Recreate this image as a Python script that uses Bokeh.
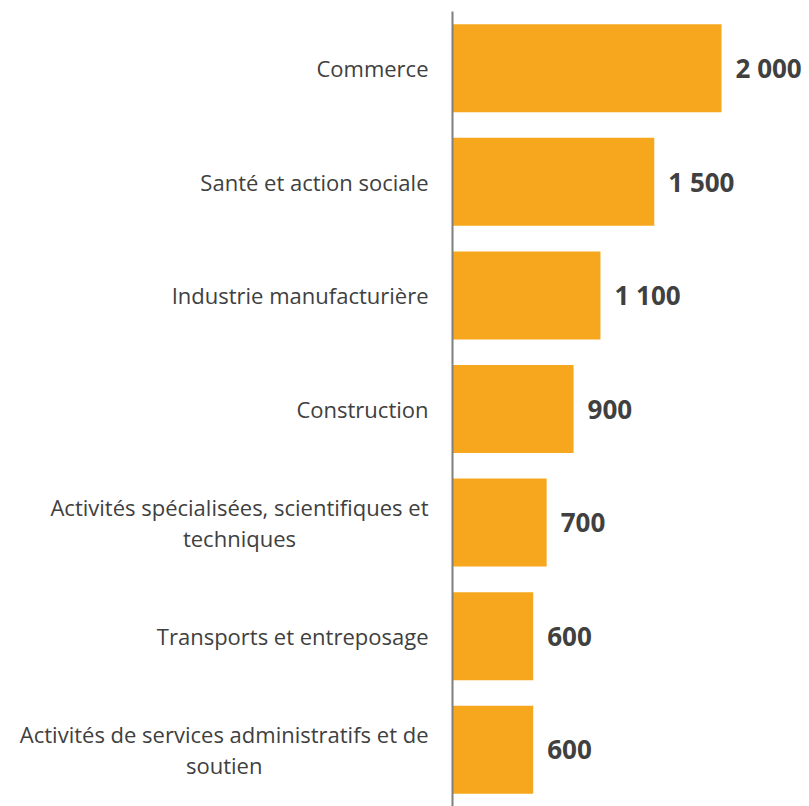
from bokeh.plotting import figure
from bokeh.models import ColumnDataSource, FactorRange, Range1d, LabelSet
from bokeh.core.properties import value
from bokeh.embed import file_html
from bokeh.resources import INLINE

categories = [
    "Commerce",
    "Santé et action sociale",
    "Industrie manufacturière",
    "Construction",
    "Activités spécialisées, scientifiques et\ntechniques",
    "Transports et entreposage",
    "Activités de services administratifs et de\nsoutien",
]
values = [2000, 1500, 1100, 900, 700, 600, 600]
value_labels = ["2 000", "1 500", "1 100", "900", "700", "600", "600"]

source = ColumnDataSource(data=dict(cat=categories, val=values, lab=value_labels,
                                    zero=[0] * len(categories)))

p = figure(
    y_range=FactorRange(factors=categories[::-1], range_padding=0),
    x_range=Range1d(0, 2654),
    width=809, height=806,
    output_backend="svg", toolbar_location=None,
    min_border_left=452, min_border_top=11, min_border_bottom=0, min_border_right=0,
)

p.hbar(y="cat", right="val", left=0, height=0.775, source=source,
       fill_color="#F7A71D", line_color=None)

labels = LabelSet(x="val", y="cat", text="lab", source=source,
                  x_offset=14, text_baseline="middle", text_align="left",
                  text_font=value("Open Sans"), text_font_size="26px", text_font_style="bold",
                  text_color="#404040")
p.add_layout(labels)

p.text(x="zero", y="cat", text="cat", source=source, x_offset=-24,
       anchor=value("center_right"), text_align=value("center"),
       text_baseline=value("middle"),
       text_font=value("Open Sans"), text_font_size=value("22px"),
       text_color="#404040", text_line_height=1.02, level="overlay")

p.xaxis.visible = False
p.xgrid.visible = False
p.ygrid.visible = False
p.outline_line_color = None

ax = p.yaxis[0]
ax.axis_line_color = "#7F7F7F"
ax.axis_line_width = 2
ax.major_tick_line_color = None
ax.minor_tick_line_color = None
ax.major_label_text_color = None
ax.major_label_text_font_size = "1px"

open("out.html", "w").write(file_html(p, INLINE))
